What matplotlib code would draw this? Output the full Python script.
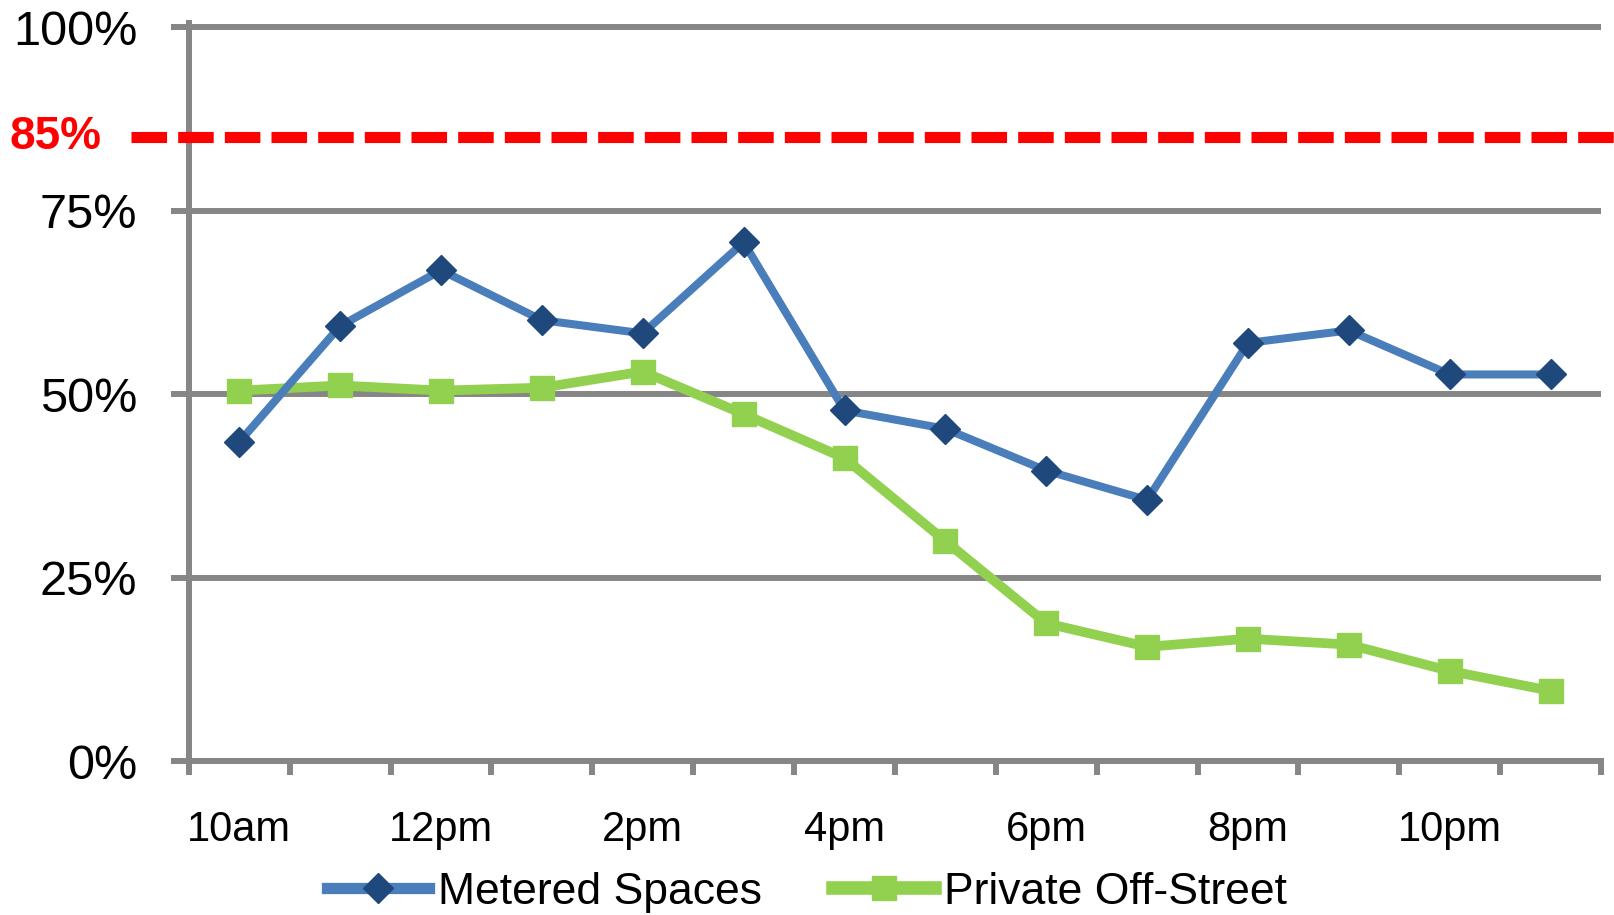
import matplotlib
matplotlib.use("Agg")
import matplotlib.pyplot as plt
import matplotlib.transforms as mtransforms
from matplotlib.ticker import FixedLocator, PercentFormatter

# hourly occupancy, 10am through 11pm
hours = ["10am", "11am", "12pm", "1pm", "2pm", "3pm", "4pm",
         "5pm", "6pm", "7pm", "8pm", "9pm", "10pm", "11pm"]
metered = [43.5, 59.3, 66.9, 60.1, 58.3, 70.7, 47.8,
           45.3, 39.6, 35.6, 57.0, 58.7, 52.7, 52.7]
private = [50.5, 51.2, 50.5, 50.9, 53.1, 47.3, 41.3,
           30.0, 18.8, 15.6, 16.7, 15.9, 12.3, 9.6]
target = 85
y_ticks = [0, 25, 50, 75, 100]

grid_col = "#868686"
sans = ["Liberation Sans", "DejaVu Sans"]

fig = plt.figure(figsize=(16.14, 9.15), dpi=100)
ax = fig.add_axes([0.117, 0.168, 0.875, 0.807])

x = list(range(len(hours)))
ax.plot(x, metered, color="#4A7EBB", lw=5.8, marker="D", ms=15,
        mfc="#1F497D", mec="#1F497D", label="Metered Spaces", zorder=4)
ax.plot(x, private, color="#92D050", lw=7, marker="s", ms=17,
        mfc="#92D050", mec="#92D050", label="Private Off-Street", zorder=3)

ax.set_xlim(-0.5, len(hours) - 0.5)
ax.set_ylim(0, 100.6)

# y axis: percent labels with gridlines
ax.set_yticks(y_ticks)
ax.yaxis.set_major_formatter(PercentFormatter(decimals=0))
ax.grid(axis="y", color=grid_col, lw=4.3, zorder=0)
ax.tick_params(axis="y", length=13, width=4.3, color=grid_col, pad=24,
               labelsize=35)
for t in ax.get_yticklabels():
    t.set_family(sans)

# x axis: labels every other hour, tick marks between categories
ax.set_xticks(x[::2])
ax.set_xticklabels(hours[::2])
ax.xaxis.set_minor_locator(FixedLocator([i - 0.5 for i in range(len(hours) + 1)]))
ax.tick_params(axis="x", which="major", length=0, pad=35, labelsize=30)
ax.tick_params(axis="x", which="minor", length=10, width=4.3, color=grid_col)
for t in ax.get_xticklabels():
    t.set_family(sans)

for side in ["top", "right"]:
    ax.spines[side].set_visible(False)
for side in ["left", "bottom"]:
    ax.spines[side].set_color(grid_col)
    ax.spines[side].set_linewidth(4.3)
    ax.spines[side].set_zorder(2)

# target occupancy line running across the whole figure
trans = mtransforms.blended_transform_factory(fig.transFigure, ax.transData)
ax.plot([0.081, 1.0], [target, target], transform=trans, color="#FF0000",
        lw=8, ls=(0, (3.2, 1.0)), solid_capstyle="butt",
        dash_capstyle="butt", clip_on=False, zorder=5)
ax.text(0.006, target, "%d%%" % target, transform=trans, color="#FF0000",
        fontsize=33, fontweight="bold", family=sans,
        va="center", ha="left")

leg = fig.legend(loc="center", bbox_to_anchor=(0.5, 0.025), ncol=2,
                 frameon=False, handlelength=2.3, columnspacing=1.6,
                 handletextpad=0.2, prop={"family": sans, "size": 32})
for h in leg.legend_handles:
    h.set_linewidth(h.get_linewidth() * 1.4)

fig.savefig("out.png", dpi=100)
